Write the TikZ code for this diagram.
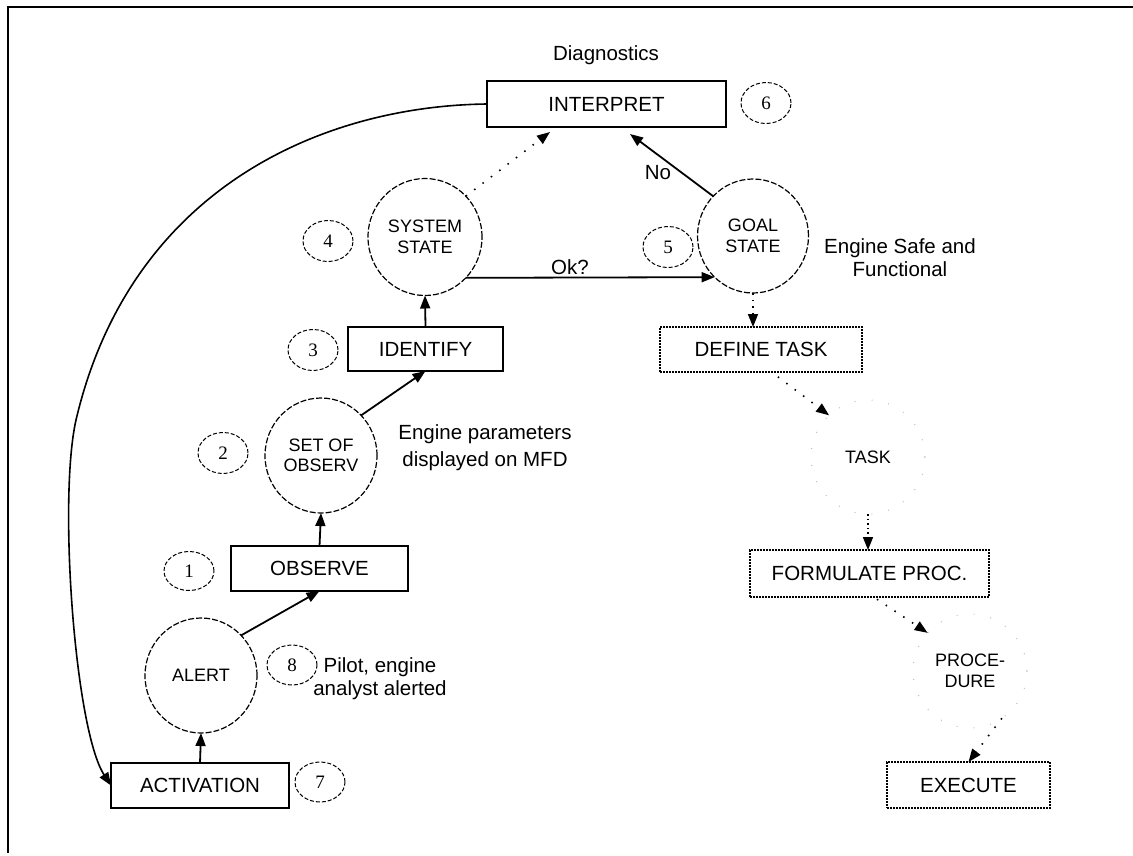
\documentclass[tikz,border=0pt]{standalone}
\usepackage{fontspec}
\setmainfont{Liberation Sans}
\newfontfamily\numfamily{Liberation Serif}
\usetikzlibrary{shapes.geometric,arrows.meta,calc}

% type sizes for boxes, stores and step numbers
\newcommand\bxfont{\fontsize{20.5}{23}\selectfont}
\newcommand\crfont{\fontsize{18}{20.5}\selectfont}
\newcommand\nmfont{\numfamily\fontsize{19}{20}\selectfont}

\begin{document}
\begin{tikzpicture}[x=1pt,y=-1pt,
  every node/.style={inner sep=0pt, outer sep=0pt},
  procbox/.style={draw, line width=1.8pt, rectangle, font=\bxfont},
  taskbox/.style={draw, line width=1.8pt, rectangle, dash pattern=on 1.6pt off 1.4pt, font=\bxfont},
  store/.style={draw, ellipse, line width=1.2pt, dash pattern=on 6pt off 2pt, align=center, font=\crfont,
                minimum width=112pt, minimum height=115pt},
  faintstore/.style={draw=black!25, ellipse, line width=1pt, dash pattern=on 1pt off 16pt, align=center, font=\crfont,
                minimum width=114pt, minimum height=114pt},
  stepnum/.style={draw, ellipse, line width=1pt, dash pattern=on 4pt off 2pt, font=\nmfont,
                minimum width=50pt, minimum height=41pt},
  flow/.style={line width=1.8pt, -{Triangle[length=13pt,width=10pt]}},
  dotflow/.style={line width=1.6pt, dash pattern=on 1.5pt off 9pt, -{Triangle[length=13pt,width=10pt]}},
  caption/.style={font=\bxfont, align=center}
]
\useasboundingbox (0,0) rectangle (1133,855);

% frame
\draw[line width=2pt] (8,853) -- (8,7) -- (1133,7);

% diagnostics loop
\node[caption] (diag) at (606,55) {Diagnostics};
\node[procbox, minimum width=239pt, minimum height=46pt] (interp) at (606.5,104) {INTERPRET};
\node[stepnum] (n6) at (766,103) {6};

\node[store, minimum width=114pt, minimum height=117pt] (sys) at (425,237) {SYSTEM\\STATE};
\node[stepnum] (n4) at (328,241) {4};
\node[store, minimum width=111pt, minimum height=114pt] (goal) at (753,236) {GOAL\\STATE};
\node[stepnum] (n5) at (668,247) {5};
\node[caption] (safe) at (900,258) {Engine Safe and\\Functional};

\node[procbox, minimum width=155pt, minimum height=44pt] (identify) at (425.5,349) {IDENTIFY};
\node[stepnum] (n3) at (313,350) {3};

\node[store] (set) at (321,455.5) {SET OF\\OBSERV};
\node[stepnum] (n2) at (223,453) {2};
\node[caption] (params) at (485,447.5) {Engine parameters\\[4pt]displayed on MFD};

\node[procbox, minimum width=177pt, minimum height=45pt] (observe) at (319.5,568.5) {OBSERVE};
\node[stepnum, minimum height=39pt] (n1) at (189,571) {1};

\node[store] (alert) at (201,675.5) {ALERT};
\node[stepnum, minimum height=40pt] (n8) at (292,665) {8};
\node[caption] (pilot) at (380,679) {Pilot, engine\\analyst alerted};

\node[procbox, minimum width=178pt, minimum height=45pt] (activation) at (200,785.5) {ACTIVATION};
\node[stepnum, minimum height=40pt] (n7) at (320,782) {7};

% task chain
\node[taskbox, minimum width=202pt, minimum height=45pt] (define) at (761,349.5) {DEFINE TASK};
\node[faintstore] (task) at (868,457) {TASK};
\node[taskbox, minimum width=239pt, minimum height=47pt] (formulate) at (869.5,573.5) {FORMULATE PROC.};
\node[faintstore] (proc) at (970,671) {PROCE-\\DURE};
\node[taskbox, minimum width=163pt, minimum height=46pt] (execute) at (968.5,785) {EXECUTE};

% arrow ends on the INTERPRET box
\coordinate (isys) at (550,132);
\coordinate (igoal) at (630,134);

% solid flows
\draw[flow] (activation.north) -- (alert.south);
\draw[flow] (alert.45) -- (observe.south);
\draw[flow] (observe.north) -- (set.south);
\draw[flow] (set.45) -- (identify.south);
\draw[flow] (identify.north) -- (sys.south);
\draw[flow] (sys.-45) -- (goal.-133);
\node[caption] (okq) at (570,267) {Ok?};
\draw[flow] (goal.135) -- (igoal);
\node[caption] (nolab) at (658,173) {No};
\draw[flow, line width=1.6pt] (interp.west) .. controls (320,106) and (130,190) .. (76,420)
  .. controls (58,500) and (75,730) .. (activation.west);

% dotted flows
\draw[dotflow] (sys.45) -- (isys);
\draw[dotflow, dash pattern=on 1.5pt off 5pt] (goal.south) -- (goal.south |- define.north);
\draw[dotflow, shorten <=8pt] (define.-65) -- (task.133);
\draw[dotflow, dash pattern=on 1.5pt off 3pt] (task.south) -- (task.south |- formulate.north);
\draw[dotflow, shorten <=4pt] (formulate.-80) -- (proc.138);
\draw[dotflow] (proc.-56) -- (execute.north);
\end{tikzpicture}
\end{document}
